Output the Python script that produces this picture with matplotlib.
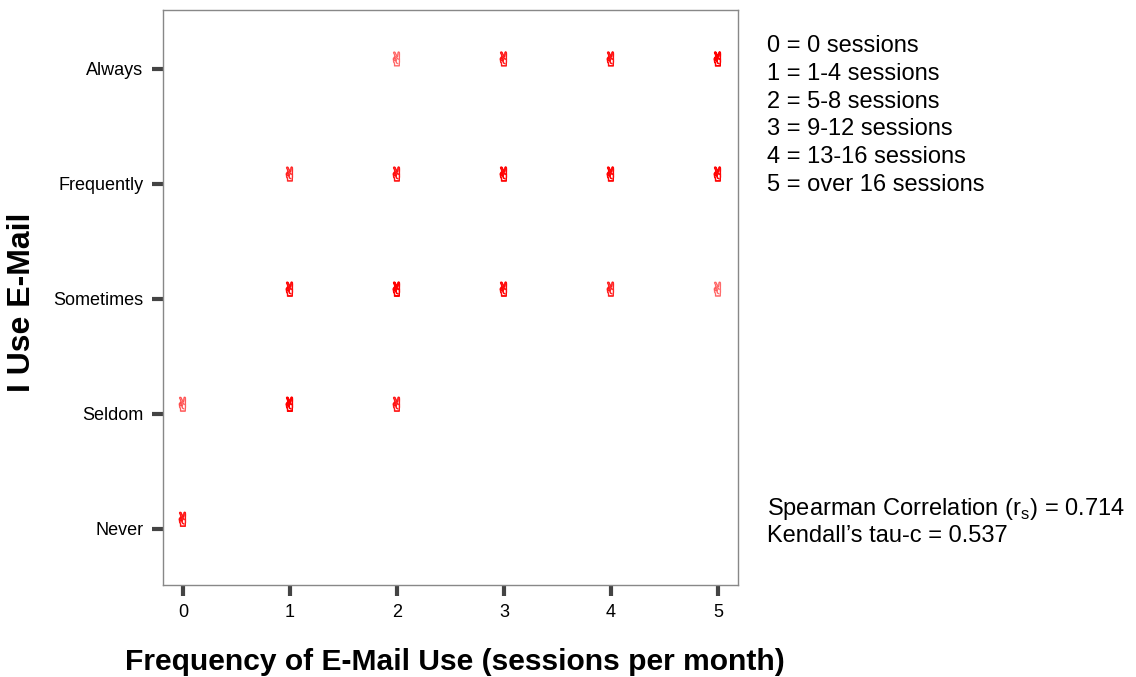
import matplotlib.pyplot as plt
import matplotlib.patheffects as pe

plt.rcParams['font.family'] = ['Liberation Sans', 'DejaVu Sans']
plt.rcParams['mathtext.fontset'] = 'custom'
plt.rcParams['mathtext.rm'] = 'Liberation Sans'

# Data: frequency (0-5), rating (0=Never .. 4=Always), relative weight for shading
freq = [0, 0, 1, 2, 1, 2, 3, 4, 5, 1, 2, 3, 4, 5, 2, 3, 4, 5]
rating = [0, 1, 1, 1, 2, 2, 2, 2, 2, 3, 3, 3, 3, 3, 4, 4, 4, 4]
weight = [0.75, 0.4, 1.0, 0.7, 0.85, 1.0, 0.85, 0.65, 0.35,
          0.6, 0.75, 0.9, 0.9, 0.9, 0.35, 0.7, 0.8, 1.0]
rating_labels = ["Never", "Seldom", "Sometimes", "Frequently", "Always"]
legend_lines = ["0 = 0 sessions", "1 = 1-4 sessions", "2 = 5-8 sessions",
                "3 = 9-12 sessions", "4 = 13-16 sessions", "5 = over 16 sessions"]
stats_text = ["Spearman Correlation (r$_\\mathrm{s}$) = 0.714",
              "Kendall\u2019s tau-c = 0.537"]

fig = plt.figure(figsize=(11.36, 6.77), dpi=100)
ax = fig.add_axes([163 / 1136, 1 - 585 / 677, 575 / 1136, 575 / 677])

# hand glyph markers, shaded by weight
for x, y, w in zip(freq, rating, weight):
    ax.text(x, y + 0.07, "\u270c", color="red", alpha=w, fontsize=14,
            ha="center", va="center", family="DejaVu Sans",
            path_effects=[pe.withStroke(linewidth=0.7, foreground="red")])

ax.set_xlim(-0.187, 5.187)
ax.set_ylim(-0.487, 4.51)
ax.set_xticks(range(6))
ax.set_yticks(range(5))
ax.set_yticklabels(rating_labels)
ax.tick_params(axis="both", direction="out", length=8, width=3,
               color="#444444", labelsize=13, pad=6)
for s in ax.spines.values():
    s.set_color("#888888")
    s.set_linewidth(1)

fig.text(455 / 1136, 1 - 662 / 677, "Frequency of E-Mail Use (sessions per month)",
         ha="center", va="center", fontsize=21.6, fontweight="bold")
fig.text(22 / 1136, 1 - 302 / 677, "I Use E-Mail", rotation=90,
         ha="center", va="center", fontsize=23, fontweight="bold")

for i, line in enumerate(legend_lines):
    fig.text(767 / 1136, 1 - (46 + i * 27.8) / 677, line, fontsize=17,
             ha="left", va="center")
for i, line in enumerate(stats_text):
    fig.text(767 / 1136, 1 - (509 + i * 27) / 677, line, fontsize=17,
             ha="left", va="center")

fig.savefig("out.png", dpi=100)
